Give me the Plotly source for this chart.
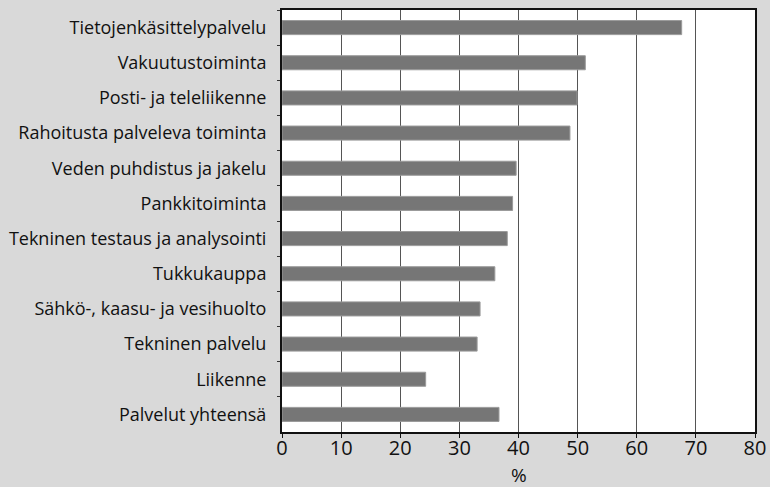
import plotly.graph_objects as go

categories = [
    "Tietojenkäsittelypalvelu",
    "Vakuutustoiminta",
    "Posti- ja teleliikenne",
    "Rahoitusta palveleva toiminta",
    "Veden puhdistus ja jakelu",
    "Pankkitoiminta",
    "Tekninen testaus ja analysointi",
    "Tukkukauppa",
    "Sähkö-, kaasu- ja vesihuolto",
    "Tekninen palvelu",
    "Liikenne",
    "Palvelut yhteensä",
]
values = [67.6, 51.3, 49.9, 48.7, 39.6, 39.0, 38.1, 36.0, 33.5, 33.0, 24.3, 36.7]
x_ticks = [0, 10, 20, 30, 40, 50, 60, 70, 80]

fig = go.Figure(
    go.Bar(
        x=values,
        y=categories,
        orientation="h",
        width=0.4,
        marker=dict(color="#767676", line=dict(color="#9a9a9a", width=1)),
    )
)

fig.update_layout(
    width=770,
    height=487,
    margin=dict(l=282, r=15, t=10, b=55),
    paper_bgcolor="#d9d9d9",
    plot_bgcolor="white",
    font=dict(family="Open Sans, sans-serif", color="#111111", size=18),
    showlegend=False,
)
fig.update_xaxes(
    range=[0, 80],
    tickvals=x_ticks,
    ticks="outside",
    ticklen=4,
    tickcolor="#111111",
    tickfont=dict(size=20),
    ticklabelstandoff=-7,
    showgrid=True,
    gridcolor="#555555",
    gridwidth=1,
    showline=True,
    linecolor="#111111",
    linewidth=2,
    mirror=True,
    zeroline=False,
    automargin=False,
)
fig.update_yaxes(
    categoryorder="array",
    categoryarray=categories,
    autorange="reversed",
    ticks="outside",
    tickson="boundaries",
    ticklen=3,
    tickcolor="#333333",
    ticklabelstandoff=10,
    showline=True,
    linecolor="#111111",
    linewidth=2,
    mirror=True,
    showgrid=False,
    automargin=False,
)

# x axis title, set lower than plotly would put it
fig.add_annotation(
    text="%",
    xref="x domain",
    yref="y domain",
    x=0.5,
    y=0,
    yanchor="middle",
    yshift=-43,
    showarrow=False,
    font=dict(size=19),
)

# drop the default page margin so the figure sits at the window's corner
fig.write_html(
    "out.html",
    config={"displayModeBar": False},
    post_script="document.body.style.margin='0';document.body.style.background='#d9d9d9';",
)
